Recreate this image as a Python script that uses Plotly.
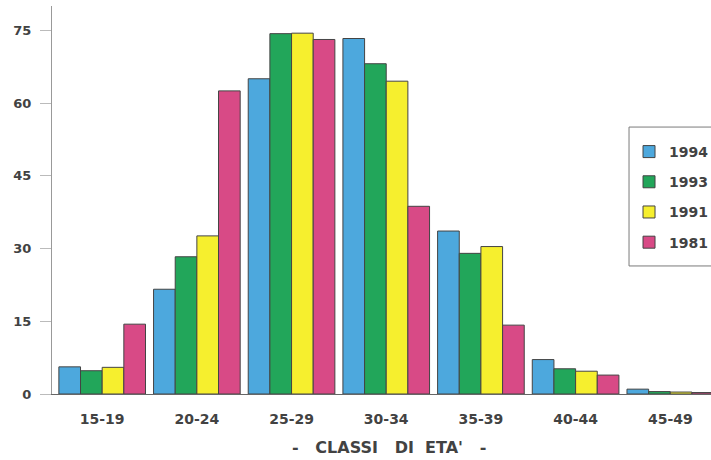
import plotly.graph_objects as go

categories = ["15-19", "20-24", "25-29", "30-34", "35-39", "40-44", "45-49"]
series_names = ["1994", "1993", "1991", "1981"]
v1994 = [5.6, 21.6, 65.0, 73.3, 33.6, 7.1, 1.0]
v1993 = [4.8, 28.3, 74.3, 68.1, 29.0, 5.2, 0.5]
v1991 = [5.5, 32.6, 74.4, 64.5, 30.4, 4.7, 0.4]
v1981 = [14.4, 62.5, 73.1, 38.7, 14.2, 3.9, 0.3]
y_ticks = [0, 15, 30, 45, 60, 75]

colors = ["#4da8dd", "#22a65a", "#f6ef2e", "#d84a86"]
values = [v1994, v1993, v1991, v1981]

fig = go.Figure()
for name, vals, col in zip(series_names, values, colors):
    fig.add_trace(go.Bar(
        x=categories, y=vals, name=name, legendgroup=name,
        marker=dict(color=col, line=dict(color="#444444", width=1)),
    ))

txt = "#424242"
fig.update_layout(
    width=711, height=460,
    margin=dict(l=52, r=0, t=6, b=66, autoexpand=False),
    paper_bgcolor="white", plot_bgcolor="white",
    barmode="group", bargap=0.085, bargroupgap=0,
    font=dict(family="DejaVu Sans", size=14, color=txt),
    showlegend=True,
    legend=dict(
        x=0.8756, y=0.665, xanchor="left", yanchor="top",
        bgcolor="rgba(0,0,0,0)", borderwidth=0,
        font=dict(family="DejaVu Sans", size=14, color=txt, weight="bold"),
        traceorder="grouped", tracegroupgap=9,
    ),
    shapes=[dict(
        type="rect", xref="paper", yref="paper",
        x0=0.8756, x1=1.02, y0=0.33, y1=0.688,
        line=dict(color="#7a7a7a", width=1), fillcolor="rgba(0,0,0,0)", layer="below",
    )],
    xaxis=dict(
        range=[-0.53, 6.43], showline=True, linecolor="#666", linewidth=1,
        ticks="", showgrid=False, zeroline=False,
        tickfont=dict(family="DejaVu Sans", size=14, color=txt, weight="bold"),
        ticklabelstandoff=12,
    ),
    yaxis=dict(
        range=[0, 80], tickvals=y_ticks, showline=True, linecolor="#999", linewidth=1,
        ticks="outside", ticklen=11, tickcolor="#bbb", showgrid=False, zeroline=False,
        tickfont=dict(family="DejaVu Sans", size=13, color=txt, weight="bold"),
        ticklabelstandoff=6,
    ),
    annotations=[dict(
        text="-   CLASSI   DI  ETA'   -", xref="paper", yref="paper",
        x=0.511, y=-0.137, xanchor="center", yanchor="middle", showarrow=False,
        font=dict(family="DejaVu Sans", size=16, color=txt, weight="bold"),
    )],
)

fig.write_html(
    "out.html",
    config={"displayModeBar": False},
    post_script="document.body.style.margin='0';document.body.style.overflow='hidden';",
)
